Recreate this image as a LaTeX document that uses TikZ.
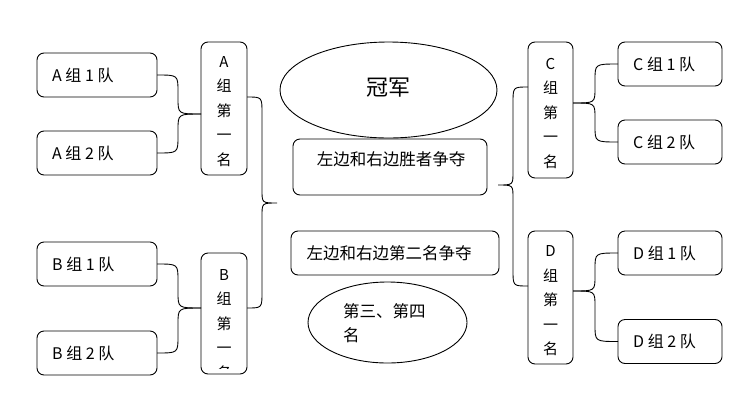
\documentclass[tikz,border=0pt]{standalone}
\usepackage{fontspec}
\setmainfont{Noto Sans CJK SC}
\usetikzlibrary{shapes.geometric,calc}
\begin{document}
\begin{tikzpicture}[x=1pt,y=-1pt,
  box/.style={draw=black,line width=0.9pt,rounded corners=7pt,inner sep=0pt,outer sep=0pt},
  oval/.style={draw=black,line width=0.9pt,ellipse,inner sep=0pt,outer sep=0pt},
  lbl/.style={inner sep=0pt,font=\fontsize{16}{18}\selectfont},
  vlbl/.style={inner sep=0pt,align=center,font=\fontsize{15}{24.5}\selectfont},
  link/.style={draw=black,line width=0.9pt}]
\useasboundingbox (0,0) rectangle (749,402);
% left team boxes
\node[box,minimum width=120pt,minimum height=44pt] (a1) at (97,75) {};
\node[box,minimum width=120pt,minimum height=44pt] (a2) at (97,153) {};
\node[box,minimum width=120pt,minimum height=44pt] (b1) at (97,264) {};
\node[box,minimum width=120pt,minimum height=44pt] (b2) at (97,353) {};
\node[lbl,anchor=west] (a1t) at ($(a1.west)+(15,0)$) {A 组 1 队};
\node[lbl,anchor=west] (a2t) at ($(a2.west)+(15,0)$) {A 组 2 队};
\node[lbl,anchor=west] (b1t) at ($(b1.west)+(15,0)$) {B 组 1 队};
\node[lbl,anchor=west] (b2t) at ($(b2.west)+(15,0)$) {B 组 2 队};
% right team boxes
\node[box,minimum width=104pt,minimum height=44pt] (c1) at (670,64) {};
\node[box,minimum width=104pt,minimum height=44pt] (c2) at (670,142) {};
\node[box,minimum width=104pt,minimum height=44pt] (d1) at (670,253) {};
\node[box,minimum width=104pt,minimum height=44pt] (d2) at (670,341.5) {};
\node[lbl,anchor=west] (c1t) at ($(c1.west)+(15,0)$) {C 组 1 队};
\node[lbl,anchor=west] (c2t) at ($(c2.west)+(15,0)$) {C 组 2 队};
\node[lbl,anchor=west] (d1t) at ($(d1.west)+(15,0)$) {D 组 1 队};
\node[lbl,anchor=west] (d2t) at ($(d2.west)+(15,0)$) {D 组 2 队};
% group winner boxes
\node[box,minimum width=46pt,minimum height=133pt] (A) at (224,108.5) {};
\node[box,minimum width=46pt,minimum height=121pt] (B) at (224,313.5) {};
\node[box,minimum width=45pt,minimum height=136pt] (C) at (550.5,110) {};
\node[box,minimum width=45pt,minimum height=133pt] (D) at (550.5,297.5) {};
\node[vlbl] (At) at (224,111.5) {A\\组\\第\\一\\名};
\begin{scope}
\clip (201,250) rectangle (247,368.5);
\node[vlbl] (Bt) at (224,324.5) {B\\组\\第\\一\\名};
\end{scope}
\node[vlbl] (Ct) at (550.5,113) {C\\组\\第\\一\\名};
\node[vlbl] (Dt) at (550.5,301) {D\\组\\第\\一\\名};
% centre
\node[oval,minimum width=217pt,minimum height=96pt] (champ) at (388.5,90) {};
\node[inner sep=0pt,font=\fontsize{22}{26}\selectfont] (champt) at (388,88) {冠军};
\node[box,minimum width=194pt,minimum height=56pt] (fin) at (390,167) {};
\node[lbl,font=\fontsize{16.5}{20}\selectfont] (fint) at (391,159) {左边和右边胜者争夺};
\node[box,minimum width=208pt,minimum height=44pt] (sec) at (395,253) {};
\node[lbl,font=\fontsize{16.5}{20}\selectfont] (sect) at (389,253) {左边和右边第二名争夺};
\node[oval,minimum width=159pt,minimum height=81pt] (third) at (387.5,322.5) {};
\node[inner sep=0pt,align=left,anchor=north west,font=\fontsize{16.5}{24}\selectfont] (thirdt) at (343,303) {第三、第四\\名};
% connectors left
\draw[link] (a1.east) .. controls (178,75) .. (178,92) -- (178,98) .. controls (178,114) .. ([yshift=-5.5pt]A.west);
\draw[link] (a2.east) .. controls (178,153) .. (178,136) -- (178,130) .. controls (178,114) .. ([yshift=-5.5pt]A.west);
\draw[link] (b1.east) .. controls (178,264) .. (178,281) -- (178,292) .. controls (178,308) .. ([yshift=5.5pt]B.west);
\draw[link] (b2.east) .. controls (178,353) .. (178,336) -- (178,324) .. controls (178,308) .. ([yshift=5.5pt]B.west);
\draw[link] ([yshift=11.5pt]A.east) .. controls (262,97) .. (262,113) -- (262,190) .. controls (262,203) .. (277,203)
  .. controls (262,203) .. (262,216) -- (262,292) .. controls (262,308) .. ([yshift=5.5pt]B.east);
% connectors right
\draw[link] ([yshift=23pt]C.west) .. controls (513,87) .. (513,103) -- (513,172) .. controls (513,185) .. (498,185)
  .. controls (513,185) .. (513,198) -- (513,270) .. controls (513,286) .. ([yshift=11.5pt]D.west);
\draw[link] ([yshift=7pt]C.east) .. controls (595,103) .. (595,88) -- (595,80) .. controls (595,64) .. (c1.west);
\draw[link] ([yshift=7pt]C.east) .. controls (595,103) .. (595,118) -- (595,126) .. controls (595,142) .. (c2.west);
\draw[link] ([yshift=6.5pt]D.east) .. controls (595,291) .. (595,276) -- (595,269) .. controls (595,253) .. (d1.west);
\draw[link] ([yshift=6.5pt]D.east) .. controls (595,291) .. (595,306) -- (595,325) .. controls (595,341.5) .. (d2.west);
\end{tikzpicture}
\end{document}
